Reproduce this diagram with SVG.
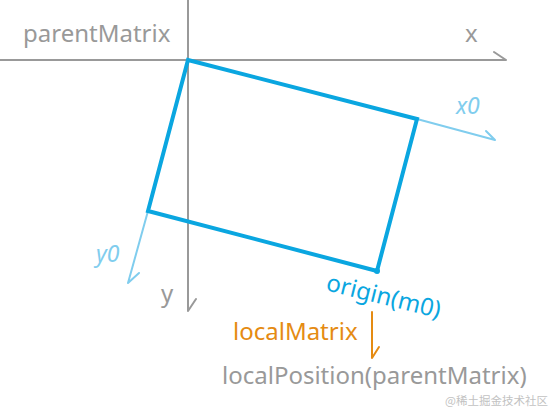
<svg xmlns="http://www.w3.org/2000/svg" width="553" height="408" viewBox="0 0 553 408">
<style>
.axis{fill:none;stroke:#999999;stroke-width:2;stroke-linecap:round}
.local{fill:none;stroke:#80cdee;stroke-width:2;stroke-linecap:round}
.arrow{fill:none;stroke:#e58b12;stroke-width:2;stroke-linecap:round}
.rect{fill:none;stroke:#0aa6e0;stroke-width:4;stroke-linejoin:miter}
text{font-family:"Noto Sans","Open Sans","DejaVu Sans",sans-serif;font-size:24px}
.gray{fill:#999999}
.blue{fill:#0aa6e0}
.lblue{fill:#80cdee;font-style:italic;font-size:23px}
.orange{fill:#e58b12}
.wm{fill:#c2c2c2;font-size:11.5px;font-family:"Noto Sans CJK SC","Noto Sans",sans-serif}
</style>
<rect width="553" height="408" fill="#ffffff"/>
<g id="connectors">
<path class="axis" d="M0,60 H506 M494,52 L506,60"/>
<path class="axis" d="M188,0 V311 M196,299 L188,311"/>
<path class="local" d="M417,119 L495,140 M486,131 L495,140"/>
<path class="local" d="M148,211 L128,283 M139,273 L128,283"/>
<path class="arrow" d="M372,312 V358 M379,347 L372,358"/>
</g>
<g id="parent-frame">
<text class="gray" x="23" y="42">parentMatrix</text>
<text class="gray" x="465" y="42">x</text>
<text class="gray" x="161" y="302">y</text>
</g>
<g id="local-rect">
<polygon class="rect" points="188,60 417,119 377,271 148,211"/>
<circle cx="377" cy="271" r="3" fill="#0aa6e0"/>
<text class="lblue" x="456" y="114">x0</text>
<text class="lblue" x="96" y="262">y0</text>
<text class="blue" transform="translate(325,290) rotate(14)">origin(m0)</text>
</g>
<g id="local-matrix">
<text class="orange" x="233" y="340">localMatrix</text>
</g>
<g id="local-position">
<text class="gray" x="222" y="384">localPosition(parentMatrix)</text>
</g>
<text class="wm" x="445" y="405">@稀土掘金技术社区</text>
</svg>
